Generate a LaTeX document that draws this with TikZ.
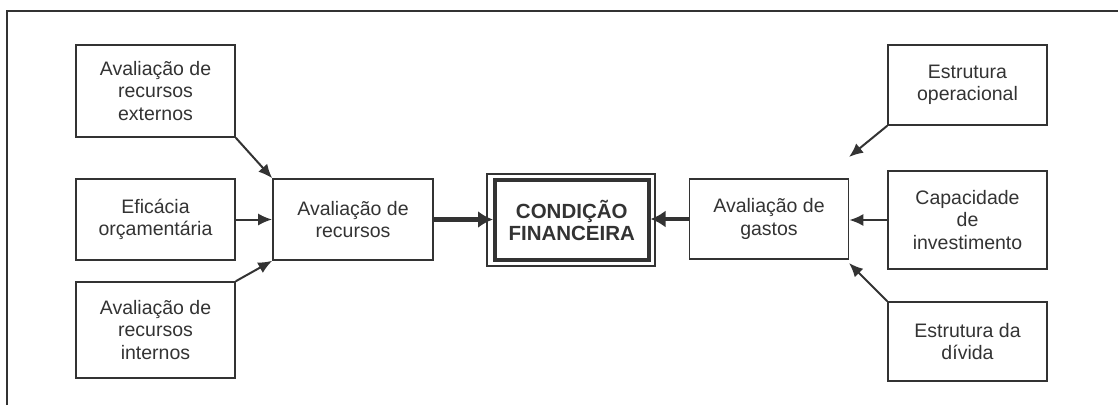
\documentclass[tikz,border=0pt]{standalone}
\usepackage{fontspec}
\setmainfont{Liberation Sans}
\usetikzlibrary{arrows.meta}
\definecolor{ink}{HTML}{333333}
\tikzset{
  box/.style={draw=ink, line width=1.6pt, text=ink, align=center, font=\fontsize{19.5}{22.5}\selectfont, inner sep=0pt},
  thin arrow/.style={draw=ink, line width=2pt, -{Latex[length=14pt,width=12pt]}},
  thick arrow/.style={draw=ink, line width=4.5pt, -{Latex[length=15pt,width=17pt]}}
}
\begin{document}
\begin{tikzpicture}[x=1pt,y=-1pt]
	\useasboundingbox (0,0) rectangle (1118,405);
	\draw[ink, line width=1.3pt] (7,405) -- (7,11) -- (1118,11);
  	\node [box, minimum width=159, minimum height=92] (ext) at (155.5,91) {Avalia\c{c}\~ao de\\recursos\\externos};
  	\node [box, minimum width=159, minimum height=81] (efi) at (155.5,219.5) {Efic\'acia\\or\c{c}ament\'aria};
  	\node [box, minimum width=159, minimum height=96] (int) at (155.5,330) {Avalia\c{c}\~ao de\\recursos\\internos};
  	\node [box, minimum width=160, minimum height=81] (rec) at (353,219.5) {Avalia\c{c}\~ao de\\recursos};
	\node [box, line width=4pt, minimum width=153.5, minimum height=80, font=\fontsize{20.5}{22}\selectfont\bfseries] (cond) at (571.75,220) {CONDI\c{C}\~AO\\FINANCEIRA};
	\draw[ink, line width=1.2pt] (487,174) rectangle (655,266);
  	\node [box, minimum width=159, minimum height=80] (gas) at (769,219) {Avalia\c{c}\~ao de\\gastos};
  	\node [box, minimum width=159, minimum height=80] (op) at (967.5,85) {Estrutura\\operacional};
  	\node [box, minimum width=159, minimum height=98] (cap) at (967.5,220) {Capacidade\\de\\investimento};
  	\node [box, minimum width=159, minimum height=79] (div) at (967.5,341.5) {Estrutura da\\d\'ivida};
	\coordinate (optip) at (849,157);
	\coordinate (divtip) at (849,263);
	\draw[thin arrow] (ext.south east) -- (rec.north west);
	\draw[thin arrow] (efi.east) -- (efi.east -| rec.west);
	\draw[thin arrow] (int.north east) -- (rec.south west);
	\draw[thick arrow] (rec.east) -- (rec.east -| cond.west);
	\draw[thick arrow] (gas.west) -- (gas.west -| cond.east);
	\draw[thin arrow] (op.south west) -- (optip);
	\draw[thin arrow] (cap.west) -- (cap.west -| gas.east);
	\draw[thin arrow] (div.north west) -- (divtip);
\end{tikzpicture}
\end{document}
